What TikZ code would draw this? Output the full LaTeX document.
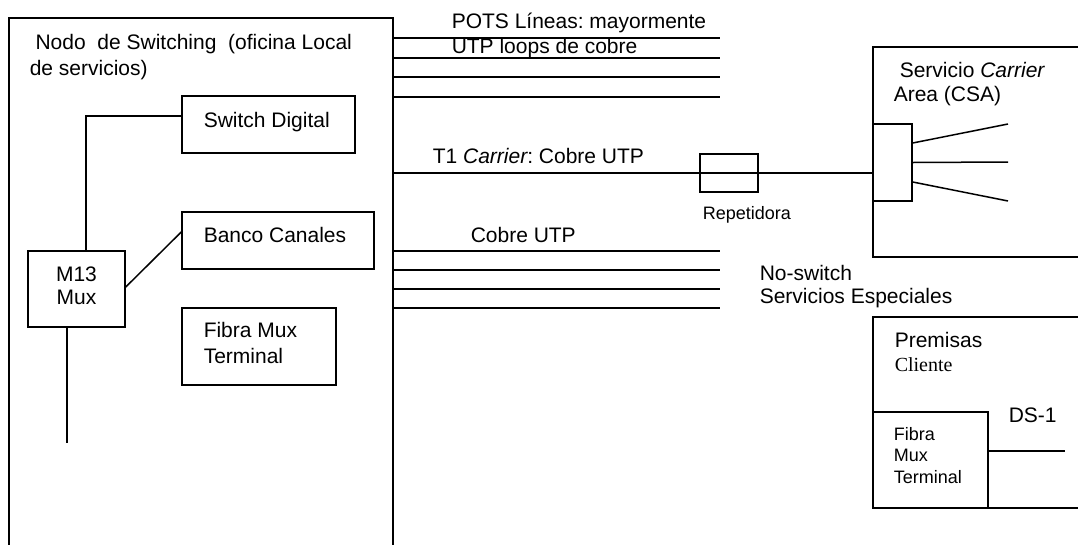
\documentclass[tikz,border=0pt]{standalone}
\usepackage{fontspec}
\setmainfont{Liberation Sans}
\newfontfamily\timesface{Liberation Serif}
\frenchspacing
\begin{document}
\begin{tikzpicture}[x=1pt, y=-1pt, line width=1.5pt,
        txt/.style={anchor=base west, inner sep=0pt, font=\fontsize{21}{25}\selectfont},
        small/.style={txt, font=\fontsize{18}{21}\selectfont},
        box/.style={draw, rectangle, inner sep=0pt}]

        \useasboundingbox (0,0) rectangle (1078,544);

        % --- Nodo de Switching (oficina local) ---
        \node[box, minimum width=384pt, minimum height=542pt] (co) at (201,289) {};
        \node[txt] (coA) at (29,49) {\ Nodo\ \ de Switching\ \ (oficina Local};
        \node[txt] (coB) at (29,75) {de servicios)};

        % --- Equipos internos ---
        \node[box, minimum width=173pt, minimum height=57pt] (swd) at (268.5,124.5) {};
        \node[txt] (swdT) at (203,127) {Switch Digital};
        \node[box, minimum width=192pt, minimum height=57pt] (banco) at (278,240.5) {};
        \node[txt] (bancoT) at (203,242) {Banco Canales};
        \node[box, minimum width=97pt, minimum height=76pt] (m13) at (76.5,289) {};
        \node[txt, anchor=base] (m13A) at (76.5,281) {M13};
        \node[txt, anchor=base] (m13B) at (76.5,304) {Mux};
        \node[box, minimum width=154pt, minimum height=77pt] (fmt) at (259,346.5) {};
        \node[txt] (fmtA) at (203,337) {Fibra Mux};
        \node[txt] (fmtB) at (203,363) {Terminal};

        % conexiones del M13
        \coordinate (m13end) at (67,443);
        \draw ([xshift=9.5pt]m13.north) |- ([yshift=8.5pt]swd.west);
        \draw ([yshift=2pt]m13.east) -- ([yshift=8.5pt]banco.west);
        \draw ([xshift=-9.5pt]m13.south) -- (m13end);

        % --- Lineas POTS ---
        \foreach \y in {38,58,77,97}
            \draw (co.east |- 0,\y) -- (720,\y);
        \node[txt] (potsA) at (451,28) {POTS Líneas: mayormente};
        \node[txt] (potsB) at (451,53) {UTP loops de cobre};

        % --- Carrier Service Area ---
        \node[box, minimum width=227pt, minimum height=210pt] (csa) at (986.5,152) {};
        \node[txt] (csaA) at (899,77) {Servicio {\itshape Carrier}};
        \node[txt] (csaB) at (893,101) {Area (CSA)};
        \node[box, minimum width=39pt, minimum height=77pt] (csamux) at (892.5,162.5) {};
        \foreach \dy/\ey in {19.5/124, 0/162, -19.5/201}
            \draw ([yshift=\dy pt]csamux.east) -- (1008,\ey);

        % --- T1 con repetidora ---
        \node[box, minimum width=58pt, minimum height=38pt] (rep) at (729,173) {};
        \node[small] (repT) at (702,219) {Repetidora};
        \draw (co.east |- rep) -- (csamux.west |- rep);
        \node[txt] (t1) at (432,163) {T1 {\itshape Carrier}: Cobre UTP};

        % --- Cobre UTP (no-switch) ---
        \foreach \y in {251,270,289,308}
            \draw (co.east |- 0,\y) -- (720,\y);
        \node[txt] (utp) at (470,242) {Cobre UTP};
        \node[txt] (nsA) at (759,280) {No-switch};
        \node[txt] (nsB) at (759,303) {Servicios Especiales};

        % --- Premisas del cliente ---
        \node[box, minimum width=227pt, minimum height=191pt] (cpe) at (986.5,412.5) {};
        \node[txt] (cpeA) at (894,347) {Premisas};
        \node[txt, font=\timesface\fontsize{20}{24}\selectfont] (cpeB) at (894,371) {Cliente};
        \node[box, minimum width=115pt, minimum height=96pt] (cfmt) at (930.5,460) {};
        \node[small] (cfmtA) at (893,440) {Fibra};
        \node[small] (cfmtB) at (893,461) {Mux};
        \node[small] (cfmtC) at (893,483) {Terminal};
        \coordinate (ds1end) at (1065,451);
        \draw ([yshift=9pt]cfmt.east) -- (ds1end);
        \node[txt] (ds1) at (1008,422) {DS-1};

\end{tikzpicture}
\end{document}
